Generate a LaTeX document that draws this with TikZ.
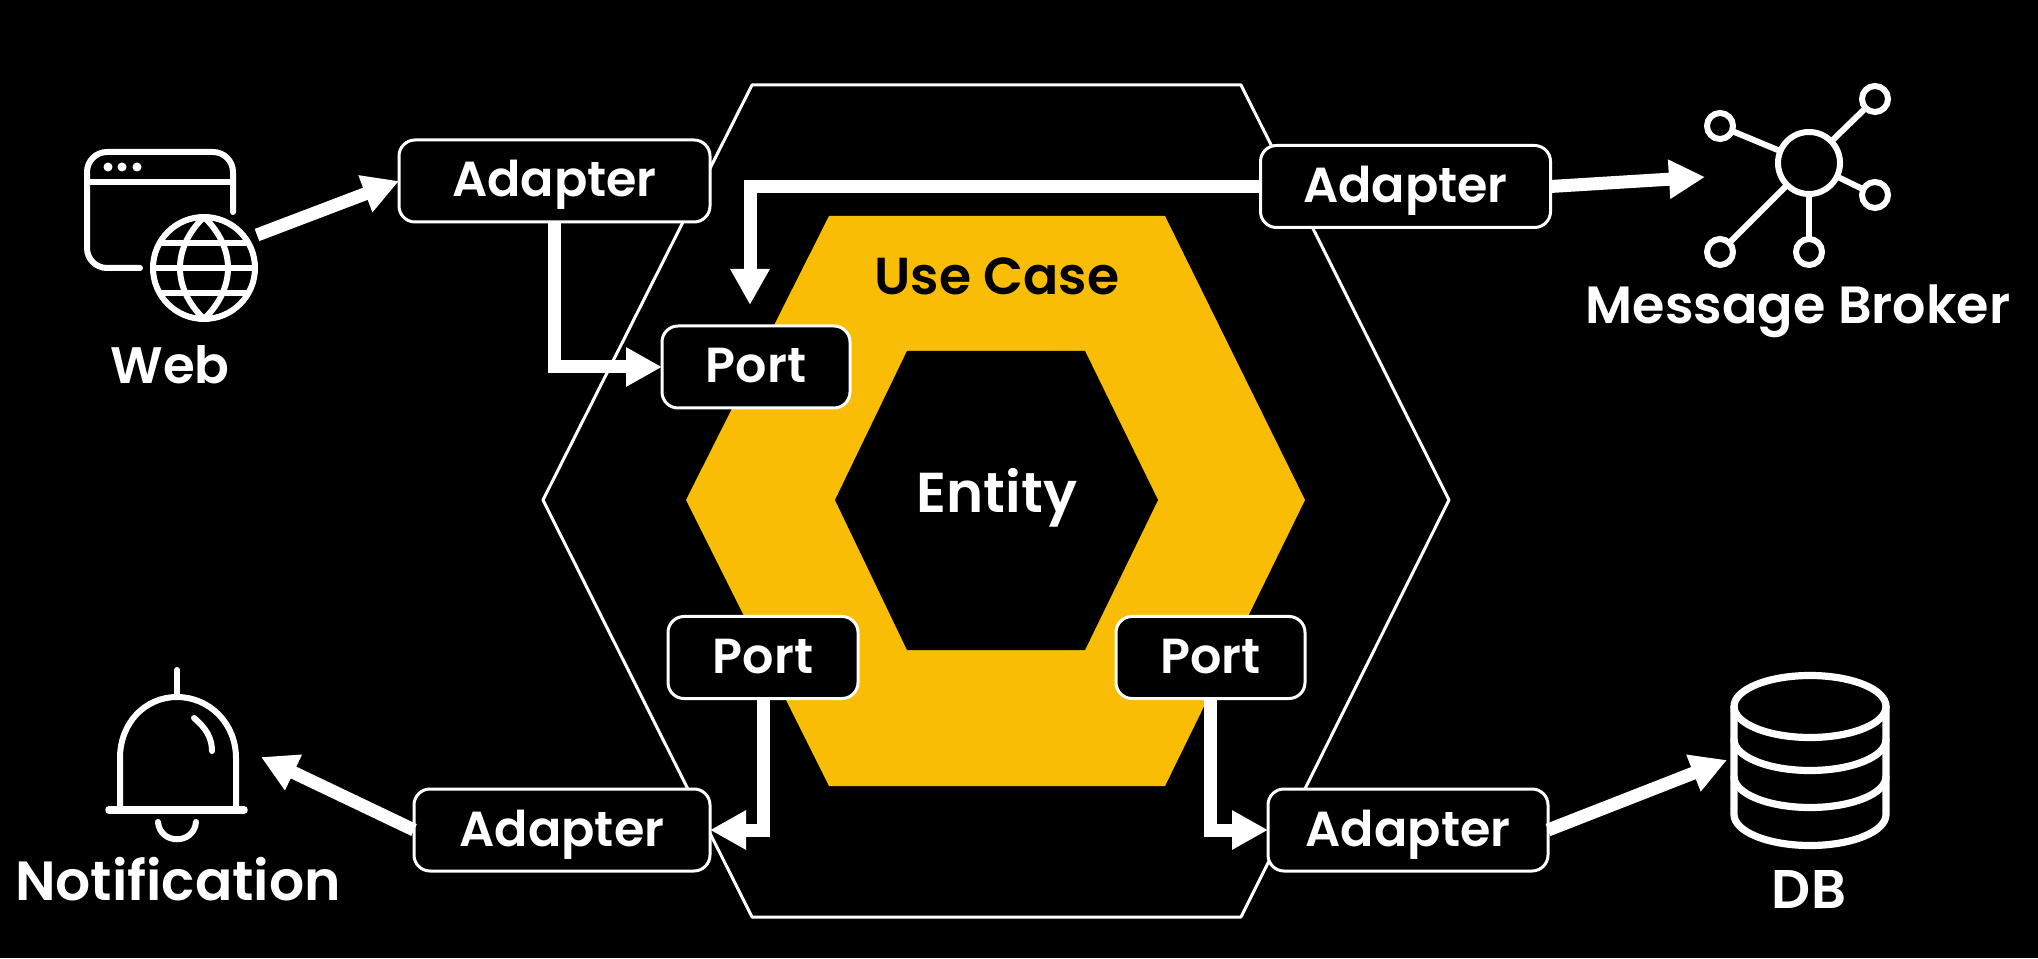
\documentclass[tikz,border=0pt]{standalone}
\usepackage{fontspec}
\setmainfont{Poppins}[UprightFont=* SemiBold]
\usepackage{tkz-euclide}
\usetikzlibrary{arrows.meta}
\definecolor{CaseClr}{rgb}{0.98,0.74,0.02}
\tikzset{
  BoxNode/.style={draw=white,line width=.3mm,fill=black,text=white,rounded corners=.16cm,
    minimum height=.82cm,inner sep=0pt,outer sep=0pt,text height=.36cm,text depth=.04cm,
    font=\fontsize{14}{16}\selectfont},
  TextNode/.style={text=white,inner sep=0pt,font=\fontsize{#1}{18}\selectfont},
  IconNode/.style={inner sep=0pt,outer sep=0pt,minimum height=.2cm},
  IconLine/.style={draw=white,line width=.6mm,line cap=round},
  ArrowLine/.style={draw=white,line width=1.3mm,-{Triangle[length=3.6mm,width=3.7mm]}}
}
\begin{document}
\begin{tikzpicture}
\fill[black] (0,0) rectangle (20.38,9.58);
\useasboundingbox (0,0) rectangle (20.38,9.58);

\tkzDefPoints{7.52/8.73/H1,12.41/8.73/H2,14.49/4.58/H3,12.41/.41/H4,7.52/.41/H5,5.43/4.58/H6}
\tkzDefPoints{8.29/7.42/U1,11.65/7.42/U2,13.05/4.58/U3,11.65/1.72/U4,8.29/1.72/U5,6.86/4.58/U6}
\tkzDefPoints{9.07/6.07/E1,10.85/6.07/E2,11.58/4.58/E3,10.85/3.08/E4,9.07/3.08/E5,8.35/4.58/E6}

\tkzDrawPolygon[color=white,line width=.3mm](H1,H2,H3,H4,H5,H6)
\tkzFillPolygon[fill=CaseClr](U1,U2,U3,U4,U5,U6)
\tkzFillPolygon[fill=black](E1,E2,E3,E4,E5,E6)

\node[TextNode=14.8,text=black] (UseCase) at (9.97,6.82) {Use Case};
\node[TextNode=16] (Entity) at (9.97,4.60) {Entity};

\node[BoxNode,minimum width=3.11cm] (AdapterWeb) at (5.545,7.77) {Adapter};
\node[BoxNode,minimum width=2.90cm] (AdapterBroker) at (14.055,7.715) {Adapter};
\node[BoxNode,minimum width=2.96cm] (AdapterBell) at (5.62,1.28) {Adapter};
\node[BoxNode,minimum width=2.80cm] (AdapterDB) at (14.08,1.28) {Adapter};
\node[BoxNode,minimum width=1.88cm] (PortWeb) at (7.56,5.91) {Port};
\node[BoxNode,minimum width=1.90cm] (PortBell) at (7.63,3.005) {Port};
\node[BoxNode,minimum width=1.89cm] (PortDB) at (12.105,3.005) {Port};

\node[TextNode=14.6] (Web) at (1.70,5.93) {Web};
\node[TextNode=14.9] (Broker) at (17.98,6.47) {Message Broker};
\node[TextNode=15.7] (Notification) at (1.78,.79) {Notification};
\node[TextNode=15.5] (DB) at (18.09,.69) {DB};

\node[IconNode,minimum width=1.74cm] (WebIcon) at (1.70,7.23) {};
\node[IconNode,minimum width=2.08cm] (BrokerIcon) at (18.09,7.81) {};
\node[IconNode,minimum width=1.68cm] (BellIcon) at (1.77,2.01) {};
\node[IconNode,minimum width=1.64cm] (DBIcon) at (18.09,1.98) {};

% web
\draw[IconLine,rounded corners=.2cm] (1.40,6.90) -- (.87,6.90) -- (.87,8.06) -- (2.33,8.06) -- (2.33,7.46);
\draw[IconLine] (.87,7.76) -- (2.33,7.76);
\foreach \x in {1.08,1.22,1.37}
  \fill[white] (\x,7.91) circle (.045);
\draw[IconLine] (2.04,6.90) circle (.51);
\draw[IconLine] (2.04,7.41) .. controls (1.72,7.1) and (1.72,6.7) .. (2.04,6.39);
\draw[IconLine] (2.04,7.41) .. controls (2.36,7.1) and (2.36,6.7) .. (2.04,6.39);
\draw[IconLine] (1.53,6.90) -- (2.55,6.90);
\draw[IconLine] (1.60,7.15) -- (2.48,7.15);
\draw[IconLine] (1.60,6.65) -- (2.48,6.65);

% broker
\foreach \x/\y in {18.75/8.59,17.20/8.32,18.75/7.63,17.20/7.06,18.09/7.06}{
  \draw[IconLine] (18.09,7.95) -- (\x,\y);
  \filldraw[IconLine,fill=black] (\x,\y) circle (.13);
}
\filldraw[IconLine,fill=black] (18.09,7.95) circle (.31);

% bell
\draw[IconLine] (1.77,2.88) -- (1.77,2.62);
\draw[IconLine] (1.20,1.48) -- (1.20,2.0) .. controls (1.20,2.35) and (1.45,2.61) .. (1.77,2.61)
  .. controls (2.09,2.61) and (2.36,2.35) .. (2.36,2.0) -- (2.36,1.48);
\draw[IconLine,line width=.75mm] (1.09,1.48) -- (2.44,1.48);
\draw[IconLine] (1.58,1.36) .. controls (1.60,1.13) and (1.94,1.13) .. (1.96,1.36);
\draw[IconLine] (1.94,2.40) .. controls (2.06,2.3) and (2.12,2.2) .. (2.12,2.07);

% db
\draw[IconLine,line width=.72mm] (18.10,2.515) ellipse (.76 and .31);
\draw[IconLine,line width=.72mm] (17.34,2.515) -- (17.34,1.435) arc (180:360:.76 and .31) -- (18.86,2.515);
\foreach \y in {2.185,1.815}
  \draw[IconLine,line width=.72mm] (17.34,\y) arc (180:360:.76 and .31);

\draw[ArrowLine] (WebIcon.east) -- (AdapterWeb.west);
\draw[ArrowLine] (AdapterWeb.south) |- (PortWeb.west);
\draw[ArrowLine] (AdapterBroker.west) -| ([xshift=-.06cm,yshift=.21cm]PortWeb.north);
\draw[ArrowLine] (AdapterBroker.east) -- (BrokerIcon.west);
\draw[ArrowLine] (PortBell.south) |- (AdapterBell.east);
\draw[ArrowLine] (AdapterBell.west) -- (BellIcon.east);
\draw[ArrowLine] (PortDB.south) |- (AdapterDB.west);
\draw[ArrowLine] (AdapterDB.east) -- (DBIcon.west);

\end{tikzpicture}
\end{document}
